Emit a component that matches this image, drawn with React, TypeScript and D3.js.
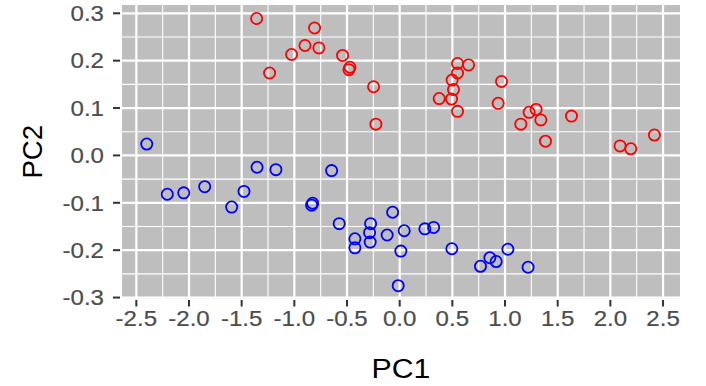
import React from "react";
import * as d3 from "d3";

// PCA scores: group A (red) and group B (blue)
const groupAPC1 = [
  -1.358, -0.808, -0.899, -0.767, -1.026, -1.235, -0.542, -0.472, -0.482, -0.248, -0.226,
  0.549, 0.654, 0.549, 0.498, 0.511, 0.375, 0.492, 0.549,
  0.967, 0.935, 1.229, 1.295, 1.34, 1.15, 1.384, 1.631, 2.092, 2.194, 2.418,
];
const groupAPC2 = [
  0.289, 0.269, 0.232, 0.227, 0.213, 0.174, 0.211, 0.186, 0.181, 0.145, 0.066,
  0.194, 0.191, 0.174, 0.159, 0.139, 0.12, 0.119, 0.093,
  0.156, 0.11, 0.091, 0.097, 0.075, 0.066, 0.03, 0.083, 0.02, 0.014, 0.043,
];
const groupBPC1 = [
  -2.401, -1.354, -2.206, -2.05, -1.851, -1.595, -1.478, -1.175, -0.646,
  -0.826, -0.836, -0.067, -0.574, -0.276, -0.286, -0.119, 0.043, 0.239, 0.322,
  -0.425, -0.425, -0.28, 0.011, -0.014, 0.495, 0.767, 0.856, 0.916, 1.027, 1.219,
];
const groupBPC2 = [
  0.024, -0.025, -0.082, -0.079, -0.066, -0.109, -0.076, -0.03, -0.032,
  -0.101, -0.105, -0.12, -0.144, -0.144, -0.163, -0.168, -0.159, -0.155, -0.152,
  -0.176, -0.195, -0.183, -0.202, -0.275, -0.197, -0.234, -0.216, -0.224, -0.198, -0.236,
];

const xTicks = [-2.5, -2.0, -1.5, -1.0, -0.5, 0.0, 0.5, 1.0, 1.5, 2.0, 2.5];
const yTicks = [-0.3, -0.2, -0.1, 0.0, 0.1, 0.2, 0.3];
const xMinor = [-2.25, -1.75, -1.25, -0.75, -0.25, 0.25, 0.75, 1.25, 1.75, 2.25];
const yMinor = [-0.25, -0.15, -0.05, 0.05, 0.15, 0.25];

const W = 706;
const H = 386;
const panel = { left: 122, right: 680, top: 5, bottom: 298.5 };
const SX = 1.12;

const font = "'Liberation Sans', Arial, Helvetica, sans-serif";

// one decimal, plain hyphen for negatives
const fmt = (v: number) => v.toFixed(1).replace("\u2212", "-");

function Label(props: {
  x: number;
  y: number;
  text: string;
  size: number;
  fill: string;
  anchor: "start" | "middle" | "end";
  rotate?: number;
  weight?: number;
}) {
  const { x, y, text, size, fill, anchor, rotate = 0, weight = 0 } = props;
  const t = rotate
    ? `translate(${x},${y}) rotate(${rotate}) scale(1.06,1.06)`
    : `translate(${x},${y}) scale(${SX},1)`;
  return (
    <text
      transform={t}
      fontFamily={font}
      fontSize={size}
      fill={fill}
      stroke={weight ? fill : "none"}
      strokeWidth={weight}
      textAnchor={anchor}
    >
      {text}
    </text>
  );
}

export default function App() {
  const x = d3.scaleLinear().domain([-2.636, 2.661]).range([panel.left, panel.right]);
  const y = d3.scaleLinear().domain([-0.302, 0.3175]).range([panel.bottom, panel.top]);

  const groupA = groupAPC1.map((v, i) => [v, groupAPC2[i]]);
  const groupB = groupBPC1.map((v, i) => [v, groupBPC2[i]]);

  return (
    <svg
      width={W}
      height={H}
      style={{ position: "absolute", left: 0, top: 0, background: "#fff" }}
    >
      <rect
        x={panel.left}
        y={panel.top}
        width={panel.right - panel.left}
        height={panel.bottom - panel.top}
        fill="#BEBEBE"
      />
      {xMinor.map((v) => (
        <line key={"xm" + v} x1={x(v)} x2={x(v)} y1={panel.top} y2={panel.bottom} stroke="#fff" strokeWidth={1.1} />
      ))}
      {yMinor.map((v) => (
        <line key={"ym" + v} y1={y(v)} y2={y(v)} x1={panel.left} x2={panel.right} stroke="#fff" strokeWidth={1.1} />
      ))}
      {xTicks.map((v) => (
        <line key={"xM" + v} x1={x(v)} x2={x(v)} y1={panel.top} y2={panel.bottom} stroke="#fff" strokeWidth={2.2} />
      ))}
      {yTicks.map((v) => (
        <line key={"yM" + v} y1={y(v)} y2={y(v)} x1={panel.left} x2={panel.right} stroke="#fff" strokeWidth={2.2} />
      ))}

      {groupA.map(([a, b], i) => (
        <circle key={"a" + i} cx={x(a)} cy={y(b)} r={5.6} fill="none" stroke="#FF0000" strokeWidth={1.8} />
      ))}
      {groupB.map(([a, b], i) => (
        <circle key={"b" + i} cx={x(a)} cy={y(b)} r={5.6} fill="none" stroke="#0000FF" strokeWidth={1.8} />
      ))}

      {xTicks.map((v) => (
        <g key={"xt" + v}>
          <line x1={x(v)} x2={x(v)} y1={panel.bottom + 1.5} y2={panel.bottom + 8} stroke="#333" strokeWidth={2} />
          <Label x={x(v)} y={325.5} text={fmt(v)} size={21.5} fill="#4D4D4D" anchor="middle" weight={0.2} />
        </g>
      ))}
      {yTicks.map((v) => (
        <g key={"yt" + v}>
          <line x1={panel.left - 9} x2={panel.left - 2} y1={y(v)} y2={y(v)} stroke="#333" strokeWidth={2} />
          <Label x={104} y={y(v) + 7.8} text={fmt(v)} size={21.5} fill="#4D4D4D" anchor="end" weight={0.2} />
        </g>
      ))}

      <Label x={(panel.left + panel.right) / 2} y={378} text="PC1" size={27} fill="#000" anchor="middle" />
      <Label x={41.5} y={(panel.top + panel.bottom) / 2} text="PC2" size={26} fill="#000" anchor="middle" rotate={-90} />
    </svg>
  );
}
